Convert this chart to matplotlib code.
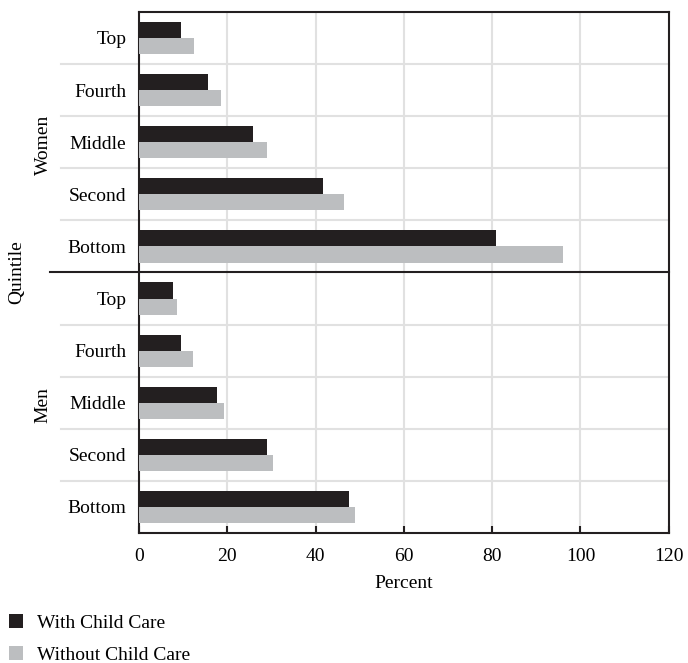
import numpy as np
import matplotlib.pyplot as plt
from matplotlib import rcParams

rcParams['font.family'] = 'Liberation Serif'
rcParams['font.size'] = 14

quintiles = ['Top', 'Fourth', 'Middle', 'Second', 'Bottom']
women_with = [9.5, 15.6, 25.8, 41.7, 80.8]
women_without = [12.5, 18.6, 29.0, 46.4, 96.0]
men_with = [7.7, 9.5, 17.7, 29.0, 47.5]
men_without = [8.6, 12.2, 19.2, 30.3, 48.9]

dark = '#231f20'
gray = '#bcbec0'
grid = '#e1e1e1'

fig = plt.figure(figsize=(6.88, 6.63), dpi=100)
ax = fig.add_axes([0.202, 0.196, 0.770, 0.786])

# rows from top: women Top..Bottom, then men Top..Bottom
with_vals = women_with + men_with
without_vals = women_without + men_without
labels = quintiles + quintiles
y = np.arange(len(labels))[::-1]
h = 0.31

ax.barh(y + h / 2, with_vals, height=h, color=dark, label='With Child Care', zorder=3)
ax.barh(y - h / 2, without_vals, height=h, color=gray, label='Without Child Care', zorder=3)

ax.set_xlim(0, 120)
ax.set_ylim(-0.5, 9.5)
ax.set_yticks(y, labels)
ax.tick_params(axis='y', length=0, pad=9)
ax.set_xticks(np.arange(0, 121, 20))
ax.tick_params(axis='x', direction='in', length=5, width=1.5, color=dark, pad=11)
ax.set_xlabel('Percent', labelpad=7)

for xv in range(20, 120, 20):
    ax.axvline(xv, color=grid, linewidth=1.5, zorder=1)

tr = ax.get_yaxis_transform()
for b in np.arange(0.5, 9.5, 1.0):
    if b == 4.5:
        ax.plot([-0.168, 1], [b, b], transform=tr, color=dark, linewidth=1.5,
                clip_on=False, zorder=4)
    else:
        ax.plot([-0.147, 1], [b, b], transform=tr, color=grid, linewidth=1.5,
                clip_on=False, zorder=1)

for s in ax.spines.values():
    s.set_color(dark)
    s.set_linewidth(1.5)

fig.text(43 / 688, 1 - 145 / 663, 'Women', rotation=90, ha='center', va='center')
fig.text(43 / 688, 1 - 405 / 663, 'Men', rotation=90, ha='center', va='center')
fig.text(17 / 688, 1 - 272 / 663, 'Quintile', rotation=90, ha='center', va='center')

fig.legend(loc='lower left', bbox_to_anchor=(-0.006, -0.022), frameon=False,
           handlelength=0.7, handleheight=0.7, handletextpad=0.7,
           labelspacing=0.75, borderaxespad=0.3)

fig.savefig('out.png', dpi=100)
